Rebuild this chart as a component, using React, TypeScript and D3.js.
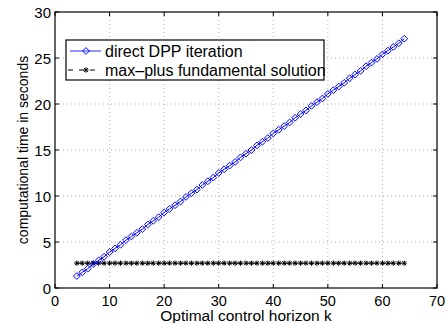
import * as d3 from 'd3';
import React from 'react';

// horizon values k = 4..64
const horizons = [
  4, 5, 6, 7, 8, 9, 10, 11, 12, 13, 14, 15, 16, 17, 18, 19, 20, 21, 22, 23, 24,
  25, 26, 27, 28, 29, 30, 31, 32, 33, 34, 35, 36, 37, 38, 39, 40, 41, 42, 43, 44,
  45, 46, 47, 48, 49, 50, 51, 52, 53, 54, 55, 56, 57, 58, 59, 60, 61, 62, 63, 64,
];

// direct DPP iteration times (s)
const dppTimes = [
  1.3, 1.7, 2.1, 2.6, 3.0, 3.4, 3.9, 4.3, 4.7, 5.2, 5.6, 6.0, 6.4, 6.9, 7.3,
  7.7, 8.2, 8.6, 9.0, 9.4, 9.9, 10.3, 10.7, 11.2, 11.6, 12.0, 12.5, 12.9, 13.3,
  13.7, 14.2, 14.6, 15.0, 15.5, 15.9, 16.3, 16.8, 17.2, 17.6, 18.0, 18.5, 18.9,
  19.3, 19.8, 20.2, 20.6, 21.1, 21.5, 21.9, 22.3, 22.8, 23.2, 23.6, 24.1, 24.5,
  24.9, 25.4, 25.8, 26.2, 26.6, 27.1,
];

// max-plus fundamental solution times (s)
const maxPlusTimes = [
  2.7, 2.7, 2.7, 2.7, 2.7, 2.7, 2.7, 2.7, 2.7, 2.7, 2.7, 2.7, 2.7, 2.7, 2.7,
  2.7, 2.7, 2.7, 2.7, 2.7, 2.7, 2.7, 2.7, 2.7, 2.7, 2.7, 2.7, 2.7, 2.7, 2.7,
  2.7, 2.7, 2.7, 2.7, 2.7, 2.7, 2.7, 2.7, 2.7, 2.7, 2.7, 2.7, 2.7, 2.7, 2.7,
  2.7, 2.7, 2.7, 2.7, 2.7, 2.7, 2.7, 2.7, 2.7, 2.7, 2.7, 2.7, 2.7, 2.7, 2.7,
  2.7,
];

const xTicks = [0, 10, 20, 30, 40, 50, 60, 70];
const yTicks = [0, 5, 10, 15, 20, 25, 30];
const legendLabels = ['direct DPP iteration', 'max\u2013plus fundamental solution'];

const font = 'Liberation Sans, Arial, Helvetica, sans-serif';

export default function App() {
  const left = 55;
  const right = 437;
  const top = 12;
  const bottom = 288;

  const x = d3.scaleLinear().domain([0, 70]).range([left, right]);
  const y = d3.scaleLinear().domain([0, 30]).range([bottom, top]);

  const line = d3
    .line<number>()
    .x((_, i) => x(horizons[i]))
    .y(d => y(d));

  const star = (cx: number, cy: number, key: number) => {
    const r = 2.6;
    const d = r * 0.75;
    return (
      <path
        key={key}
        d={`M${cx - r},${cy}H${cx + r}M${cx},${cy - r}V${cy + r}M${cx - d},${cy - d}L${cx + d},${cy + d}M${cx - d},${cy + d}L${cx + d},${cy - d}`}
        stroke="#000"
        strokeWidth={1}
        fill="none"
      />
    );
  };
  const diamond = (cx: number, cy: number, key: number) => {
    const r = 3.4;
    return (
      <path
        key={key}
        d={`M${cx},${cy - r}L${cx + r},${cy}L${cx},${cy + r}L${cx - r},${cy}Z`}
        stroke="#0000ff"
        strokeWidth={1}
        fill="none"
      />
    );
  };

  return (
    <svg
      width={447}
      height={323}
      style={{ position: 'absolute', left: 0, top: 0, background: '#fff' }}
      fontFamily={font}
    >
      <rect x={0} y={0} width={447} height={323} fill="#fff" />
      {/* grid */}
      {xTicks.slice(1, -1).map(t => (
        <line
          key={'gx' + t}
          x1={x(t)}
          x2={x(t)}
          y1={top}
          y2={bottom}
          stroke="#b0b0b0"
          strokeWidth={1}
          strokeDasharray="1,3"
        />
      ))}
      {yTicks.slice(1, -1).map(t => (
        <line
          key={'gy' + t}
          x1={left}
          x2={right}
          y1={y(t)}
          y2={y(t)}
          stroke="#b0b0b0"
          strokeWidth={1}
          strokeDasharray="1,3"
        />
      ))}
      {/* ticks */}
      {xTicks.map(t => (
        <g key={'tx' + t}>
          <line x1={x(t)} x2={x(t)} y1={bottom} y2={bottom - 4} stroke="#000" />
          <line x1={x(t)} x2={x(t)} y1={top} y2={top + 4} stroke="#000" />
          <text x={x(t)} y={305.5} fontSize={14.5} textAnchor="middle">
            {t}
          </text>
        </g>
      ))}
      {yTicks.map(t => (
        <g key={'ty' + t}>
          <line x1={left} x2={left + 4} y1={y(t)} y2={y(t)} stroke="#000" />
          <line x1={right} x2={right - 4} y1={y(t)} y2={y(t)} stroke="#000" />
          <text x={51} y={y(t) + 5.5} fontSize={15} textAnchor="end">
            {t}
          </text>
        </g>
      ))}
      {/* series */}
      <path d={line(maxPlusTimes) ?? ''} fill="none" stroke="#000" strokeDasharray="5,3" />
      {maxPlusTimes.map((v, i) => star(x(horizons[i]), y(v), i))}
      <path d={line(dppTimes) ?? ''} fill="none" stroke="#0000ff" />
      {dppTimes.map((v, i) => diamond(x(horizons[i]), y(v), i))}
      {/* frame */}
      <rect
        x={left}
        y={top}
        width={right - left}
        height={bottom - top}
        fill="none"
        stroke="#000"
        strokeWidth={1.2}
      />
      {/* legend */}
      <rect x={66} y={40} width={258} height={40} fill="#fff" stroke="#000" strokeWidth={1.2} />
      <line x1={70} x2={101} y1={51} y2={51} stroke="#6f6fff" strokeWidth={1.5} />
      {diamond(86, 51, 1000)}
      <text x={105} y={56.5} fontSize={16}>
        {legendLabels[0]}
      </text>
      <line x1={70} x2={101} y1={70} y2={70} stroke="#000" strokeDasharray="5,6" transform="translate(-2,0)" />
      {star(86, 70, 1001)}
      <text x={105} y={75.5} fontSize={16}>
        {legendLabels[1]}
      </text>
      {/* axis labels */}
      <text x={246} y={321} fontSize={15.5} textAnchor="middle">
        Optimal control horizon k
      </text>
      <text
        transform={`translate(28,${(top + bottom) / 2}) rotate(-90)`}
        fontSize={14}
        textAnchor="middle"
      >
        computational time in seconds
      </text>
    </svg>
  );
}
